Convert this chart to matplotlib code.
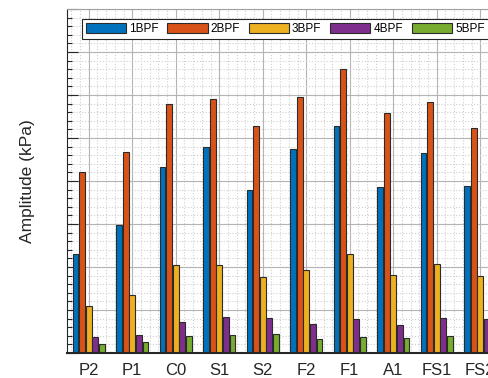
import matplotlib
matplotlib.use("Agg")
import matplotlib.pyplot as plt
import numpy as np
from matplotlib.ticker import MultipleLocator, NullFormatter

plt.rcParams['font.family'] = ['Liberation Sans', 'DejaVu Sans']

# measurement locations and amplitudes at the first five blade-passing harmonics
locations = ['P2', 'P1', 'C0', 'S1', 'S2', 'F2', 'F1', 'A1', 'FS1', 'FS2']
amp_1bpf = [2.31, 2.97, 4.33, 4.78, 3.79, 4.74, 5.27, 3.85, 4.65, 3.89]
amp_2bpf = [4.20, 4.67, 5.79, 5.91, 5.29, 5.95, 6.60, 5.57, 5.84, 5.24]
amp_3bpf = [1.10, 1.36, 2.05, 2.05, 1.77, 1.92, 2.30, 1.81, 2.07, 1.78]
amp_4bpf = [0.38, 0.42, 0.72, 0.84, 0.82, 0.67, 0.79, 0.64, 0.82, 0.80]
amp_5bpf = [0.22, 0.26, 0.40, 0.42, 0.44, 0.33, 0.37, 0.34, 0.40, 0.38]
series_names = ['1BPF', '2BPF', '3BPF', '4BPF', '5BPF']

series = [amp_1bpf, amp_2bpf, amp_3bpf, amp_4bpf, amp_5bpf]
colors = ['#0072BD', '#D95319', '#EDB120', '#7E2F8E', '#77AC30']

fig = plt.figure(figsize=(4.89, 3.78), dpi=100)
# axes runs a bit past the right edge of the figure
ax = fig.add_axes([67/489, 25/378, 435/489, 344/378])

x = np.arange(1, len(locations) + 1)
pitch = 0.153
for i, (vals, c, name) in enumerate(zip(series, colors, series_names)):
    ax.bar(x + (i - 2)*pitch, vals, width=0.135, color=c, edgecolor='#2b2b2b',
           linewidth=0.8, label=name, zorder=2)

ax.set_xlim(0.5, 10.5)
ax.set_ylim(0, 8)
ax.set_xticks(x)
ax.set_xticklabels(locations)
ax.xaxis.set_minor_locator(MultipleLocator(0.2))
ax.yaxis.set_major_locator(MultipleLocator(1))
ax.yaxis.set_minor_locator(MultipleLocator(0.2))
ax.yaxis.set_major_formatter(NullFormatter())

ax.grid(which='major', color='#b4b4b4', linestyle='-', linewidth=0.8, zorder=0)
ax.grid(which='minor', color='#cfcfcf', linestyle=':', linewidth=0.8, zorder=0)
ax.set_axisbelow(True)

ax.tick_params(axis='both', which='both', direction='in', colors='#262626')
ax.tick_params(axis='x', which='major', length=7, width=0.8, labelsize=12, pad=7)
ax.tick_params(axis='x', which='minor', length=0)
ax.tick_params(axis='y', which='major', length=8, width=0.8)
ax.tick_params(axis='y', which='minor', length=3.5, width=0.8)
for t in ax.get_xticklabels():
    t.set_color('#262626')

ax.spines['left'].set_color('#262626')
ax.spines['bottom'].set_color('#262626')
ax.spines['bottom'].set_linewidth(1.5)
ax.spines['top'].set_color('#a0a0a0')
ax.spines['right'].set_color('#262626')

ax.set_ylabel('Amplitude (kPa)', fontsize=12.5, color='#262626')
ax.yaxis.set_label_coords(-0.074, 0.5)

leg = ax.legend(ncol=5, loc='upper left', bbox_to_anchor=(82/489, 1 - 19/378),
                bbox_transform=fig.transFigure, borderaxespad=0, fontsize=8.5,
                handlelength=3.4, handleheight=1.0, handletextpad=0.25,
                columnspacing=0.75, borderpad=0.33, fancybox=False,
                framealpha=1, edgecolor='#262626')
leg.get_frame().set_linewidth(0.8)

fig.savefig('out.png', dpi=100)
